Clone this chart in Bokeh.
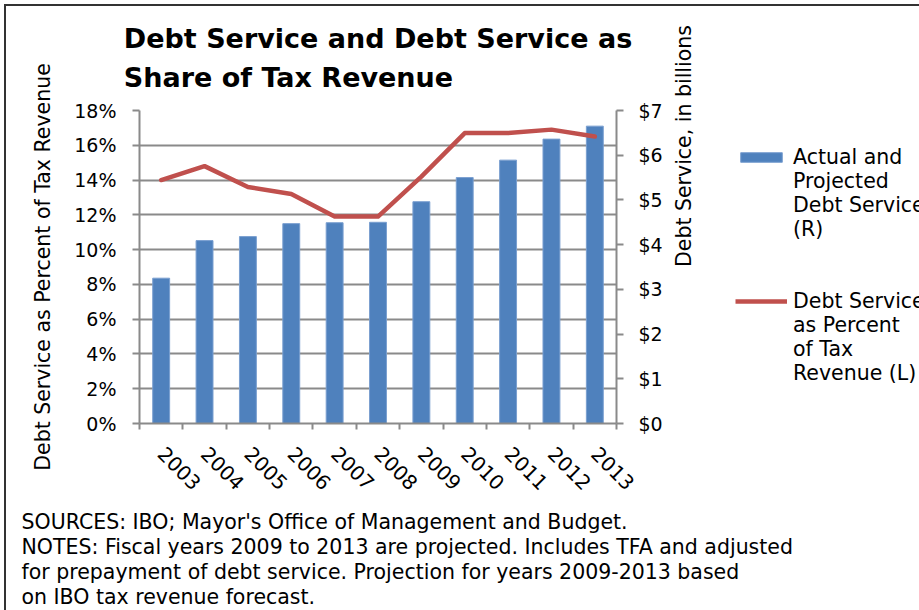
from math import pi
import numpy as np
from bokeh.plotting import figure
from bokeh.layouts import row, column
from bokeh.models import (Range1d, LinearAxis, FixedTicker, PrintfTickFormatter,
                          Legend, LegendItem, Title, Label)
from bokeh.embed import file_html
from bokeh.resources import INLINE

# ---------------- data ----------------
years = ["2003", "2004", "2005", "2006", "2007", "2008", "2009", "2010", "2011", "2012", "2013"]
debt_service_billions = [3.25, 4.09, 4.18, 4.47, 4.49, 4.50, 4.96, 5.50, 5.89, 6.36, 6.65]
pct_of_tax_revenue = [14.0, 14.8, 13.6, 13.2, 11.9, 11.9, 14.2, 16.7, 16.7, 16.9, 16.5]
pct_ticks = [0, 2, 4, 6, 8, 10, 12, 14, 16, 18]
dollar_ticks = [0, 1, 2, 3, 4, 5, 6, 7]

title_lines = ["Debt Service and Debt Service as", "Share of Tax Revenue"]
left_axis_title = "Debt Service as Percent of Tax Revenue"
right_axis_title = "Debt Service, in billions"
legend_bar_lines = ["Actual and", "Projected", "Debt Service", "(R)"]
legend_line_lines = ["Debt Service", "as Percent", "of Tax", "Revenue (L)"]
notes_lines = [
    "SOURCES: IBO; Mayor's Office of Management and Budget.",
    "NOTES: Fiscal years 2009 to 2013 are projected. Includes TFA and adjusted",
    "for prepayment of debt service. Projection for years 2009-2013 based",
    "on IBO tax revenue forecast.",
]

# ---------------- layout constants (page px) ----------------
OFF = 6                              # page offset of the content (margin + border)
PAGE_W, PAGE_H = 919, 610
FL, FR, FT, FB = 139, 616, 110, 423  # chart frame edges on the page
LEG_X = 735                          # left edge of the legend column on the page
NOTES_Y = 506                        # top of the notes strip on the page
A_W, A_H = LEG_X - OFF, NOTES_Y - OFF
B_W = PAGE_W - LEG_X
C_W, C_H = PAGE_W - OFF, PAGE_H - NOTES_Y
FONT = "DejaVu Sans"
BAR_COLOR = "#4F81BD"
BAR_EDGE = "#7A9FD0"
LINE_COLOR = "#C0504D"
GRID_COLOR = "#8A8A8A"

n = len(years)
xc = np.arange(n) + 0.5

# ================= main chart =================
p = figure(width=A_W, height=A_H, output_backend="svg", toolbar_location=None,
           x_range=Range1d(0, n), y_range=Range1d(pct_ticks[0], pct_ticks[-1]),
           min_border_left=FL - OFF, min_border_right=A_W - (FR - OFF),
           min_border_top=FT - OFF, min_border_bottom=A_H - (FB - OFF))
p.outline_line_color = None
p.background_fill_color = "white"
p.border_fill_color = "white"
p.extra_y_ranges = {"dollars": Range1d(dollar_ticks[0], dollar_ticks[-1])}

bars = p.vbar(x=xc, top=debt_service_billions, width=0.39, bottom=0,
              fill_color=BAR_COLOR, line_color=BAR_EDGE, line_width=1,
              y_range_name="dollars")
line = p.line(x=xc, y=pct_of_tax_revenue, line_color=LINE_COLOR, line_width=4.5,
              line_join="round", line_cap="round")

p.xgrid.grid_line_color = None
p.ygrid.ticker = FixedTicker(ticks=pct_ticks)
p.ygrid.grid_line_color = GRID_COLOR
p.ygrid.grid_line_width = 2

# x axis: tick marks between years, labels at year centres
xa = p.xaxis[0]
xa.ticker = FixedTicker(ticks=list(xc), minor_ticks=list(range(n + 1)))
xa.major_label_overrides = {float(v): y for v, y in zip(xc, years)}
xa.major_tick_in = 0
xa.major_tick_out = 0
xa.minor_tick_in = 0
xa.minor_tick_out = 6
xa.minor_tick_line_color = GRID_COLOR
xa.minor_tick_line_width = 2
xa.axis_line_color = GRID_COLOR
xa.axis_line_width = 2
xa.major_label_orientation = -pi / 4
xa.major_label_standoff = 21
xa.major_label_text_font = FONT
xa.major_label_text_font_size = "20px"
xa.major_label_text_color = "black"

# left axis (percent)
ya = p.yaxis[0]
ya.ticker = FixedTicker(ticks=pct_ticks)
ya.formatter = PrintfTickFormatter(format="%d%%")
ya.major_tick_in = 0
ya.major_tick_out = 7
ya.minor_tick_line_color = None
ya.major_tick_line_color = GRID_COLOR
ya.major_tick_line_width = 2
ya.axis_line_color = GRID_COLOR
ya.axis_line_width = 2
ya.major_label_standoff = 16
ya.major_label_text_font = FONT
ya.major_label_text_font_size = "19px"
ya.major_label_text_color = "black"
ya.axis_label = left_axis_title
ya.axis_label_standoff = 16
ya.axis_label_text_font = FONT
ya.axis_label_text_font_size = "20.5px"
ya.axis_label_text_font_style = "normal"
ya.axis_label_text_color = "black"

# right axis (dollars)
ra = LinearAxis(y_range_name="dollars", ticker=FixedTicker(ticks=dollar_ticks),
                formatter=PrintfTickFormatter(format="$%d"))
ra.major_tick_in = 0
ra.major_tick_out = 7
ra.minor_tick_line_color = None
ra.major_tick_line_color = GRID_COLOR
ra.major_tick_line_width = 2
ra.axis_line_color = GRID_COLOR
ra.axis_line_width = 2
ra.major_label_standoff = 15
ra.major_label_text_font = FONT
ra.major_label_text_font_size = "19px"
ra.major_label_text_color = "black"
ra.axis_label = right_axis_title
ra.axis_label_standoff = 18
ra.axis_label_text_font = FONT
ra.axis_label_text_font_size = "20.5px"
ra.axis_label_text_font_style = "normal"
ra.axis_label_text_color = "black"
try:
    ra.axis_label_orientation = pi / 2
except Exception:
    pass
try:
    ra.axis_label_text_align = "center"
except Exception:
    pass
p.add_layout(ra, "right")

# title
p.add_layout(Title(text="\n".join(title_lines), align="center", vertical_align="top",
                   text_font=FONT, text_font_size="27px", text_font_style="bold",
                   text_line_height=1.27, standoff=31, text_color="black"), "above")

# ================= legend column =================
# its frame is aligned with the chart frame (page y 110..423) by the row layout
lg = figure(width=B_W, height=A_H, output_backend="svg", toolbar_location=None,
            x_range=Range1d(-20, -10), y_range=Range1d(-20, -10),
            x_axis_location=None, y_axis_location=None, min_border=0)
lg.outline_line_color = None
lg.grid.visible = False
lg.background_fill_color = "white"
lg.border_fill_color = "white"
# key renderers (same series, outside this panel's view; used only for legend keys)
key_bar = lg.vbar(x=xc, top=debt_service_billions, width=0.39, bottom=0,
                  fill_color=BAR_COLOR, line_color=BAR_EDGE, line_width=1)
key_line = lg.line(x=xc, y=pct_of_tax_revenue, line_color=LINE_COLOR, line_width=4.5)

items = [LegendItem(label=legend_bar_lines[0], renderers=[key_bar])]
items += [LegendItem(label=t, renderers=[]) for t in legend_bar_lines[1:]]
items += [LegendItem(label=" ", renderers=[]), LegendItem(label=" ", renderers=[])]
items += [LegendItem(label=legend_line_lines[0], renderers=[key_line])]
items += [LegendItem(label=t, renderers=[]) for t in legend_line_lines[1:]]
ROW_H = 24
first_row_center = 156.7                 # page y of first legend row centre
leg_bottom = first_row_center - ROW_H / 2 + ROW_H * len(items)
legend = Legend(items=items, location=(0, FB - leg_bottom),
                orientation="vertical",
                glyph_width=52, glyph_height=12, label_height=ROW_H,
                label_standoff=6, spacing=0, padding=0, margin=0,
                label_text_font=FONT, label_text_font_size="20.5px",
                label_text_color="black",
                border_line_color=None, background_fill_alpha=0)
lg.add_layout(legend)

# ================= notes strip =================
nt = figure(width=C_W, height=C_H, output_backend="svg", toolbar_location=None,
            x_range=Range1d(0, C_W), y_range=Range1d(0, C_H),
            x_axis_location=None, y_axis_location=None, min_border=0)
nt.outline_line_color = None
nt.grid.visible = False
nt.background_fill_color = "white"
nt.border_fill_color = "white"
for i, t in enumerate(notes_lines):
    baseline_page = 521 + 25 * i
    nt.add_layout(Label(x=21 - OFF, y=C_H - (baseline_page - NOTES_Y),
                        x_units="screen", y_units="screen", text=t,
                        text_font=FONT, text_font_size="20.5px",
                        text_baseline="alphabetic", text_align="left",
                        text_color="black"))

layout = column(row(p, lg, spacing=0), nt, spacing=0,
                styles={"margin-left": "4px", "margin-top": "4px",
                        "border-left": "2px solid #333333",
                        "border-top": "2px solid #333333"})

open("out.html", "w").write(file_html(layout, INLINE))
